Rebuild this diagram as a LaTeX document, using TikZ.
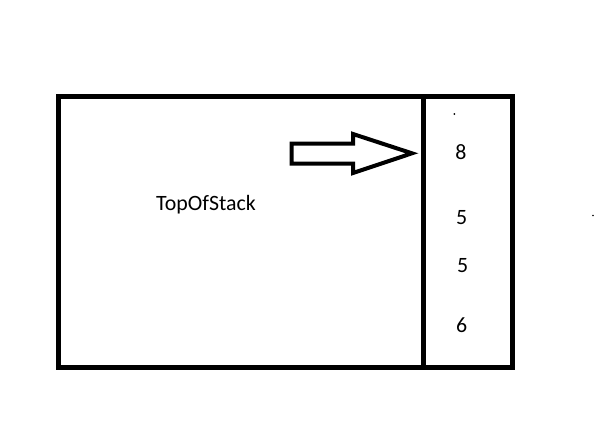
\documentclass[tikz,border=0pt]{standalone}
\usepackage{fontspec}
\setmainfont{Carlito}
\usepackage{tikz}
\usetikzlibrary{positioning}

\begin{document}
\begin{tikzpicture}[x=0.75pt,y=-0.75pt]
  \useasboundingbox (0,0) rectangle (600,447);
  \tikzset{frame/.style={line width=3.75pt, line join=miter},
           val/.style={font=\fontsize{16.4}{19}\selectfont, inner sep=0pt}}
  \draw[frame] (58.5,96.5) rectangle (512.5,367.5);
  \draw[frame] (423.5,96.5) -- (423.5,367.5);
  % block arrow pointing at the top of the stack
  \draw[line width=3pt, line join=miter, miter limit=20]
    (291.5,143.5) -- (353,143.5) -- (353,134) -- (412,153.3)
    -- (353,173) -- (353,163.5) -- (291.5,163.5) -- cycle;
  \node[val] (top) at (206,204.5) {TopOfStack};
  \node[val] (v1) at (461,152) {8};
  \node[val] (v2) at (461.7,217.3) {5};
  \node[val] (v3) at (462.7,266) {5};
  \node[val] (v4) at (461.7,325) {6};
  \fill (454.3,114) circle (1);
  \fill (593,215.5) circle (0.8);
\end{tikzpicture}
\end{document}
